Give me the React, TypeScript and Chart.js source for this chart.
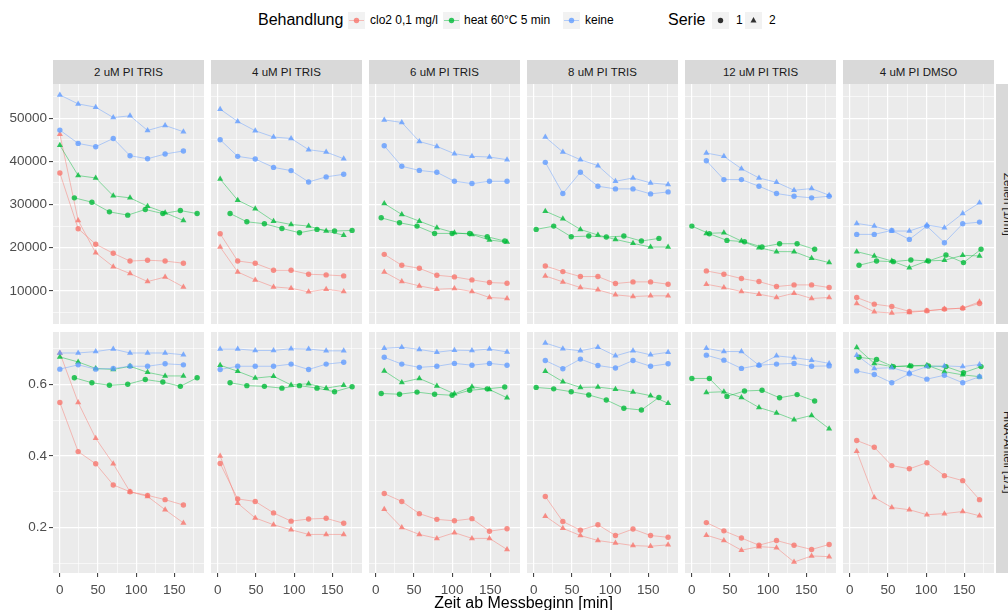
import React, { useEffect, useRef } from "react";
import { Chart, registerables } from "chart.js";
Chart.register(...registerables);

const facetLabels = ["2 uM PI TRIS", "4 uM PI TRIS", "6 uM PI TRIS", "8 uM PI TRIS", "12 uM PI TRIS", "4 uM PI DMSO"];
const treatments = ["clo2 0,1 mg/l", "heat 60°C 5 min", "keine"];
const seriesNames = ["1", "2"];
const rowLabels = ["Zellen [1/ml]", "HNA-Anteil [1/1]"];
const xTitle = "Zeit ab Messbeginn [min]";
const treatmentColors = ["248,118,109", "0,186,56", "97,156,255"];

const xMajor = [0, 50, 100, 150];
const xGrid = [0, 25, 50, 75, 100, 125, 150, 175];
const cellMajor = [10000, 20000, 30000, 40000, 50000];
const cellGrid = [5000, 10000, 15000, 20000, 25000, 30000, 35000, 40000, 45000, 50000, 55000];
const hnaMajor = [0.2, 0.4, 0.6];
const hnaGrid = [0.1, 0.2, 0.3, 0.4, 0.5, 0.6, 0.7];

// row order in every facet array: clo2/1, clo2/2, heat/1, heat/2, keine/1, keine/2
const time2TRIS = [
  [0, 24, 47, 70, 92, 115, 138, 162], [0, 24, 47, 70, 92, 115, 138, 162],
  [19, 42, 65, 89, 112, 135, 158, 180], [0, 24, 47, 70, 92, 115, 138, 162],
  [0, 24, 47, 70, 92, 115, 138, 162], [0, 24, 47, 70, 92, 115, 138, 162],
];
const cells2TRIS = [
  [37300, 24400, 20800, 18700, 16900, 17100, 16900, 16400],
  [46300, 26300, 18800, 15600, 14000, 12150, 13200, 10900],
  [31540, 30540, 28300, 27540, 28850, 27900, 28600, 27900],
  [43700, 36700, 36150, 32000, 31540, 29600, 28100, 26300],
  [47230, 44150, 43380, 45300, 41300, 40600, 41700, 42400],
  [55385, 53300, 52540, 50150, 50540, 47150, 48300, 46850],
];
const hna2TRIS = [
  [0.549, 0.412, 0.378, 0.319, 0.3, 0.29, 0.278, 0.263],
  [0.687, 0.549, 0.449, 0.378, 0.3, 0.287, 0.25, 0.213],
  [0.618, 0.604, 0.597, 0.6, 0.613, 0.606, 0.594, 0.618],
  [0.676, 0.662, 0.644, 0.641, 0.65, 0.633, 0.623, 0.623],
  [0.642, 0.654, 0.642, 0.644, 0.65, 0.65, 0.657, 0.654],
  [0.687, 0.687, 0.691, 0.698, 0.687, 0.687, 0.687, 0.682],
];

const time4TRIS = [
  [3, 26, 49, 73, 96, 119, 142, 165], [3, 26, 49, 73, 96, 119, 142, 165],
  [16, 38, 61, 84, 107, 130, 153, 176], [3, 26, 49, 73, 96, 119, 142, 165],
  [3, 26, 49, 73, 96, 119, 142, 165], [3, 26, 49, 73, 96, 119, 142, 165],
];
const cells4TRIS = [
  [23230, 16920, 16380, 14770, 14770, 13850, 13700, 13460],
  [20150, 14380, 12540, 10920, 10600, 9770, 10380, 9850],
  [27920, 26000, 25540, 24460, 23460, 24230, 23850, 24000],
  [35900, 31000, 29000, 26150, 25380, 25000, 23850, 22900],
  [45000, 41150, 40540, 38600, 37850, 35230, 36400, 37000],
  [52080, 49230, 47080, 45620, 45300, 42700, 42150, 40600],
];
const hna4TRIS = [
  [0.379, 0.28, 0.273, 0.241, 0.218, 0.224, 0.226, 0.212],
  [0.4, 0.268, 0.227, 0.208, 0.194, 0.181, 0.181, 0.181],
  [0.604, 0.596, 0.594, 0.589, 0.596, 0.589, 0.579, 0.593],
  [0.653, 0.636, 0.617, 0.622, 0.598, 0.601, 0.589, 0.597],
  [0.641, 0.65, 0.65, 0.65, 0.656, 0.641, 0.656, 0.661],
  [0.698, 0.698, 0.694, 0.694, 0.699, 0.698, 0.693, 0.693],
];

const time6TRIS = [
  [11, 34, 57, 80, 103, 126, 149, 172], [11, 34, 57, 80, 103, 126, 149, 172],
  [7, 31, 54, 77, 100, 123, 146, 169], [11, 34, 57, 80, 103, 126, 149, 172],
  [11, 34, 57, 80, 103, 126, 149, 172], [11, 34, 57, 80, 103, 126, 149, 172],
];
const cells6TRIS = [
  [18460, 15920, 15230, 13620, 13230, 12540, 11920, 11770],
  [14380, 12150, 11150, 10380, 10540, 9850, 8460, 8230],
  [26920, 25770, 25000, 23300, 23300, 23300, 22540, 21540],
  [30230, 27690, 26150, 24600, 23460, 23080, 21770, 21300],
  [43600, 38850, 37900, 37460, 35380, 34850, 35380, 35380],
  [49600, 49000, 44600, 43460, 41770, 41150, 41000, 40380],
];
const hna6TRIS = [
  [0.295, 0.273, 0.239, 0.223, 0.219, 0.225, 0.19, 0.197],
  [0.251, 0.2, 0.181, 0.17, 0.186, 0.17, 0.17, 0.139],
  [0.574, 0.572, 0.578, 0.572, 0.569, 0.583, 0.587, 0.592],
  [0.637, 0.605, 0.616, 0.595, 0.573, 0.593, 0.585, 0.562],
  [0.675, 0.656, 0.647, 0.65, 0.658, 0.653, 0.658, 0.653],
  [0.7, 0.703, 0.697, 0.689, 0.695, 0.694, 0.698, 0.69],
];

const time8TRIS = [
  [15, 38, 61, 84, 107, 130, 153, 176], [15, 38, 61, 84, 107, 130, 153, 176],
  [3, 26, 49, 72, 95, 118, 141, 164], [15, 38, 61, 84, 107, 130, 153, 176],
  [15, 38, 61, 84, 107, 130, 153, 176], [15, 38, 61, 84, 107, 130, 153, 176],
];
const cells8TRIS = [
  [15770, 14460, 13310, 13310, 11690, 12080, 12080, 11540],
  [13460, 12080, 10770, 10230, 9080, 8690, 8850, 8850],
  [24230, 25000, 22540, 22690, 22460, 22690, 21540, 22150],
  [28460, 26690, 24230, 22920, 21920, 21000, 20150, 20150],
  [39770, 32540, 37460, 34230, 33620, 33620, 32460, 32920],
  [45620, 42150, 40380, 39000, 35380, 36150, 35000, 34620],
];
const hna8TRIS = [
  [0.287, 0.217, 0.193, 0.208, 0.178, 0.196, 0.178, 0.173],
  [0.232, 0.198, 0.178, 0.164, 0.157, 0.15, 0.148, 0.152],
  [0.591, 0.587, 0.579, 0.57, 0.556, 0.533, 0.528, 0.563],
  [0.636, 0.607, 0.591, 0.592, 0.586, 0.578, 0.568, 0.547],
  [0.666, 0.643, 0.67, 0.652, 0.645, 0.666, 0.65, 0.657],
  [0.715, 0.699, 0.693, 0.703, 0.679, 0.693, 0.682, 0.689],
];

const time12TRIS = [
  [19, 42, 65, 88, 111, 134, 157, 180], [19, 42, 65, 88, 111, 134, 157, 180],
  [0, 23, 46, 69, 92, 115, 138, 161], [19, 42, 65, 88, 111, 134, 157, 180],
  [19, 42, 65, 88, 111, 134, 157, 180], [19, 42, 65, 88, 111, 134, 157, 180],
];
const cells12TRIS = [
  [14620, 13850, 12850, 12150, 11000, 11380, 11380, 10770],
  [11540, 10770, 9850, 9230, 8460, 9460, 8230, 8460],
  [25000, 23230, 21690, 21380, 20150, 20920, 20920, 19620],
  [23300, 23460, 21540, 20000, 19080, 19080, 17540, 16540],
  [40150, 35770, 35770, 34230, 32540, 31920, 31540, 31920],
  [41920, 41150, 38300, 36150, 35150, 33300, 33700, 32150],
];
const hna12TRIS = [
  [0.214, 0.191, 0.171, 0.151, 0.164, 0.151, 0.139, 0.153],
  [0.179, 0.164, 0.137, 0.147, 0.144, 0.104, 0.121, 0.119],
  [0.616, 0.616, 0.566, 0.581, 0.583, 0.562, 0.571, 0.553],
  [0.577, 0.579, 0.563, 0.535, 0.52, 0.501, 0.513, 0.476],
  [0.681, 0.667, 0.644, 0.653, 0.656, 0.658, 0.65, 0.651],
  [0.7, 0.691, 0.691, 0.653, 0.679, 0.674, 0.667, 0.658],
];

const time4DMSO = [
  [9, 32, 55, 78, 101, 124, 148, 170], [9, 32, 55, 78, 101, 124, 148, 170],
  [12, 35, 57, 80, 103, 126, 149, 172], [9, 32, 55, 78, 101, 124, 148, 170],
  [9, 32, 55, 78, 101, 124, 148, 170], [9, 32, 55, 78, 101, 124, 148, 170],
];
const cells4DMSO = [
  [8460, 6920, 6380, 5230, 5380, 5770, 6000, 7080],
  [7080, 5150, 4850, 5000, 5380, 5770, 6000, 7460],
  [15920, 16920, 16770, 17150, 16920, 18310, 16540, 19620],
  [19080, 18080, 16920, 15380, 16920, 17080, 18230, 18080],
  [23080, 23080, 24000, 21920, 25000, 21150, 25540, 25920],
  [25620, 25000, 23850, 23850, 25230, 24620, 27920, 30380],
];
const hna4DMSO = [
  [0.443, 0.424, 0.373, 0.364, 0.381, 0.345, 0.331, 0.278],
  [0.413, 0.284, 0.256, 0.25, 0.236, 0.239, 0.245, 0.233],
  [0.675, 0.669, 0.649, 0.651, 0.651, 0.649, 0.632, 0.649],
  [0.702, 0.658, 0.649, 0.651, 0.653, 0.635, 0.626, 0.621],
  [0.637, 0.627, 0.604, 0.629, 0.614, 0.625, 0.604, 0.621],
  [0.681, 0.644, 0.646, 0.632, 0.649, 0.651, 0.649, 0.655],
];

const facetTimes = [time2TRIS, time4TRIS, time6TRIS, time8TRIS, time12TRIS, time4DMSO];
const facetCells = [cells2TRIS, cells4TRIS, cells6TRIS, cells8TRIS, cells12TRIS, cells4DMSO];
const facetHna = [hna2TRIS, hna4TRIS, hna6TRIS, hna8TRIS, hna12TRIS, hna4DMSO];

// ggplot-like 5% expansion of the data range
function expandedRange(values: number[]) {
  const lo = Math.min(...values);
  const hi = Math.max(...values);
  const pad = (hi - lo) * 0.05;
  return [lo - pad, hi + pad];
}
const xRange = expandedRange(facetTimes.flat(2));
const cellRange = expandedRange(facetCells.flat(2));
const hnaRange = expandedRange(facetHna.flat(2));

// layout (pixels)
const PANEL_X0 = 53;
const PANEL_STEP = 158;
const PANEL_W = 151;
const ROW_TOP = [84, 332];
const ROW_H = [240, 241];
const Y_AXIS_W = 53;
const X_AXIS_H = 37;
const FONT = "'Liberation Sans', Arial, Helvetica, sans-serif";

const inList = (list: number[], v: number) => list.some((m) => Math.abs(m - v) < 1e-9);

const panelBg = {
  id: "panelBg",
  beforeDraw(chart: any) {
    const { ctx, chartArea: a } = chart;
    ctx.save();
    ctx.fillStyle = "#EBEBEB";
    ctx.fillRect(a.left, a.top, a.right - a.left, a.bottom - a.top);
    ctx.restore();
  },
};

function makeDatasets(facet: number, row: number) {
  const times = facetTimes[facet];
  const vals = row === 0 ? facetCells[facet] : facetHna[facet];
  const pointSets: any[] = [];
  const lineSets: any[] = [];
  for (let t = treatments.length - 1; t >= 0; t--) {
    for (let s = seriesNames.length - 1; s >= 0; s--) {
      const k = t * 2 + s;
      const data = times[k].map((x, i) => ({ x, y: vals[k][i] }));
      const rgb = treatmentColors[t];
      pointSets.push({
        label: treatments[t] + " / " + seriesNames[s],
        data,
        showLine: false,
        pointStyle: s === 0 ? "circle" : "triangle",
        pointRadius: s === 0 ? 2.7 : 3.5,
        pointBackgroundColor: `rgba(${rgb},0.8)`,
        pointBorderWidth: 0,
        borderWidth: 0,
        clip: 4,
      });
      lineSets.push({
        label: treatments[t] + " / " + seriesNames[s] + " line",
        data,
        showLine: true,
        pointRadius: 0,
        borderColor: `rgba(${rgb},0.45)`,
        borderWidth: 1,
        tension: 0,
        fill: false,
      });
    }
  }
  return [...pointSets, ...lineSets];
}

function Panel({ facet, row }: { facet: number; row: number }) {
  const ref = useRef<HTMLCanvasElement>(null);
  const leftCol = facet === 0;
  const bottomRow = row === 1;
  const left = leftCol ? 0 : PANEL_X0 + facet * PANEL_STEP;
  const width = leftCol ? PANEL_X0 + PANEL_W : PANEL_W;
  const top = ROW_TOP[row];
  const height = ROW_H[row] + (bottomRow ? X_AXIS_H : 0);
  const yMajor = row === 0 ? cellMajor : hnaMajor;
  const yGrid = row === 0 ? cellGrid : hnaGrid;
  const yRange = row === 0 ? cellRange : hnaRange;

  useEffect(() => {
    const tickFont = { family: FONT, size: 13.5 };
    const chart = new Chart(ref.current as HTMLCanvasElement, {
      type: "line",
      data: { datasets: makeDatasets(facet, row) },
      options: {
        animation: false,
        responsive: false,
        maintainAspectRatio: false,
        devicePixelRatio: 1,
        layout: { padding: 0, autoPadding: false },
        events: [],
        plugins: { legend: { display: false }, tooltip: { enabled: false } },
        scales: {
          x: {
            type: "linear",
            min: xRange[0],
            max: xRange[1],
            afterBuildTicks: (scale: any) => {
              scale.ticks = xGrid.map((v) => ({ value: v }));
            },
            afterFit: (scale: any) => {
              scale.height = bottomRow ? X_AXIS_H : 0;
              scale.paddingLeft = 0;
              scale.paddingRight = 0;
            },
            border: { display: false },
            grid: {
              color: "#FFFFFF",
              lineWidth: (c: any) => (inList(xMajor, c.tick.value) ? 1.2 : 0.6),
              drawTicks: bottomRow,
              tickLength: 4,
              tickWidth: 1,
              tickColor: (c: any) => (inList(xMajor, c.tick.value) ? "#333333" : "rgba(0,0,0,0)"),
            },
            ticks: {
              display: bottomRow,
              autoSkip: false,
              maxRotation: 0,
              padding: 5,
              color: "#4D4D4D",
              font: tickFont,
              callback: (v: any) => (inList(xMajor, v) ? String(v) : ""),
            },
          },
          y: {
            type: "linear",
            min: yRange[0],
            max: yRange[1],
            afterBuildTicks: (scale: any) => {
              scale.ticks = yGrid.map((v) => ({ value: v }));
            },
            afterFit: (scale: any) => {
              scale.width = leftCol ? Y_AXIS_W : 0;
              scale.paddingTop = 0;
              scale.paddingBottom = 0;
            },
            border: { display: false },
            grid: {
              color: "#FFFFFF",
              lineWidth: (c: any) => (inList(yMajor, c.tick.value) ? 1.2 : 0.6),
              drawTicks: leftCol,
              tickLength: 4,
              tickWidth: 1,
              tickColor: (c: any) => (inList(yMajor, c.tick.value) ? "#333333" : "rgba(0,0,0,0)"),
            },
            ticks: {
              display: leftCol,
              autoSkip: false,
              padding: 2,
              color: "#4D4D4D",
              font: tickFont,
              callback: (v: any) => (inList(yMajor, v) ? String(v) : ""),
            },
          },
        },
      },
      plugins: [panelBg],
    } as any);
    return () => chart.destroy();
  }, [facet, row]);

  return (
    <canvas
      ref={ref}
      width={width}
      height={height}
      style={{ position: "absolute", left, top, width, height, display: "block" }}
    />
  );
}

function LegendKey({ rgb, shape, line }: { rgb: string; shape: string; line: boolean }) {
  return (
    <svg width={17} height={17} style={{ display: "block" }}>
      <rect x={0} y={0} width={17} height={17} fill="#F2F2F2" />
      {line && <line x1={1} y1={8.5} x2={16} y2={8.5} stroke={`rgba(${rgb},0.45)`} strokeWidth={1} />}
      {shape === "circle" ? (
        <circle cx={8.5} cy={8.5} r={2.7} fill={`rgba(${rgb},0.8)`} />
      ) : (
        <polygon points="8.5,5 11.5,10.5 5.5,10.5" fill={`rgba(${rgb},0.8)`} />
      )}
    </svg>
  );
}

export default function App() {
  const abs = (left: number, top: number, extra: any = {}) => ({ position: "absolute" as const, left, top, ...extra });
  const legendTextTop = 12;
  const treatKeyX = [348, 443, 563];
  const treatTextX = [370, 464, 585];
  return (
    <div
      style={{
        position: "fixed",
        left: 0,
        top: 0,
        width: 1008,
        height: 610,
        background: "#FFFFFF",
        overflow: "hidden",
        fontFamily: FONT,
      }}
    >
      {/* legend */}
      <div style={abs(258, 10, { fontSize: 16, color: "#000", lineHeight: "20px", whiteSpace: "nowrap" })}>Behandlung</div>
      {treatments.map((t, i) => (
        <React.Fragment key={t}>
          <div style={abs(treatKeyX[i], 12)}>
            <LegendKey rgb={treatmentColors[i]} shape="circle" line={true} />
          </div>
          <div style={abs(treatTextX[i], legendTextTop, { fontSize: 12, lineHeight: "17px", color: "#000", whiteSpace: "nowrap" })}>{t}</div>
        </React.Fragment>
      ))}
      <div style={abs(668, 10, { fontSize: 16, color: "#000", lineHeight: "20px", whiteSpace: "nowrap" })}>Serie</div>
      {seriesNames.map((s, i) => (
        <React.Fragment key={s}>
          <div style={abs(712 + i * 33, 12)}>
            <LegendKey rgb="0,0,0" shape={i === 0 ? "circle" : "triangle"} line={false} />
          </div>
          <div style={abs(736 + i * 33, legendTextTop, { fontSize: 12, lineHeight: "17px", color: "#000" })}>{s}</div>
        </React.Fragment>
      ))}

      {/* facet strips */}
      {facetLabels.map((f, i) => (
        <div
          key={f}
          style={abs(PANEL_X0 + i * PANEL_STEP, 60, {
            width: PANEL_W,
            height: 24,
            background: "#D9D9D9",
            color: "#1A1A1A",
            fontSize: 11.5,
            lineHeight: "24px",
            textAlign: "center",
            whiteSpace: "nowrap",
          })}
        >
          {f}
        </div>
      ))}
      {rowLabels.map((r, i) => (
        <div
          key={r}
          style={abs(PANEL_X0 + 5 * PANEL_STEP + PANEL_W + 2, ROW_TOP[i], {
            width: 23,
            height: ROW_H[i],
            background: "#D9D9D9",
            color: "#1A1A1A",
            fontSize: 11.5,
            display: "flex",
            alignItems: "center",
            justifyContent: "center",
          })}
        >
          <span style={{ writingMode: "vertical-rl", whiteSpace: "nowrap" }}>{r}</span>
        </div>
      ))}

      {/* panels */}
      {[0, 1].map((row) => facetLabels.map((_, f) => <Panel key={row + "-" + f} facet={f} row={row} />))}

      {/* x axis title */}
      <div
        style={abs(PANEL_X0, 594, {
          width: PANEL_STEP * 5 + PANEL_W,
          textAlign: "center",
          fontSize: 16,
          lineHeight: "18px",
          color: "#000",
          whiteSpace: "nowrap",
        })}
      >
        {xTitle}
      </div>
    </div>
  );
}
